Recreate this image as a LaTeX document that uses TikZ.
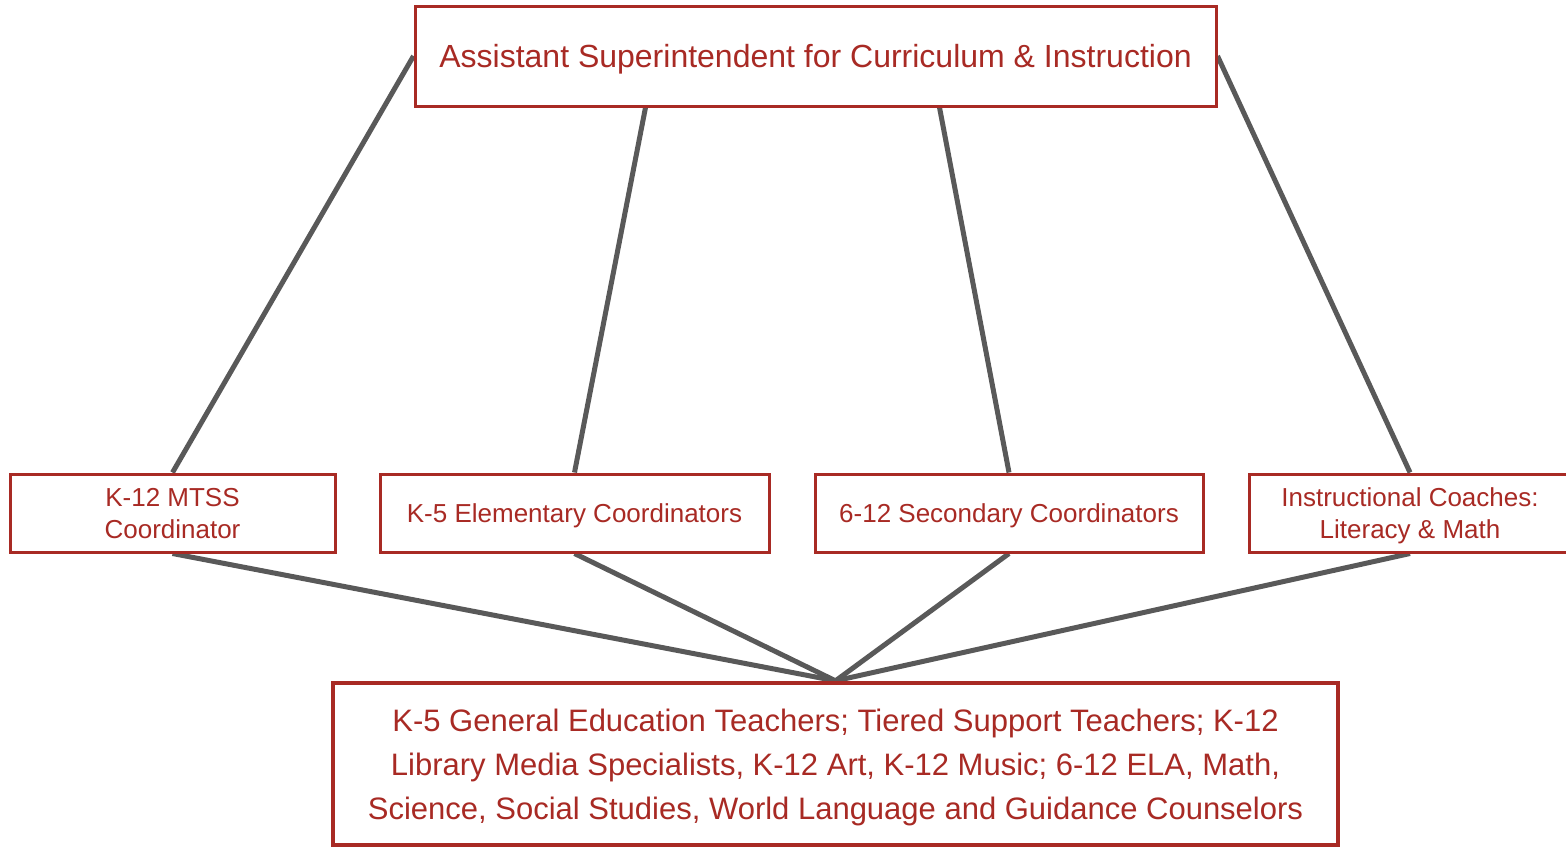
\documentclass[tikz,border=0pt]{standalone}
\usepackage{fontspec}
\setmainfont{Liberation Sans}
\usetikzlibrary{backgrounds}
\definecolor{boxred}{RGB}{168,42,36}
\definecolor{linegray}{RGB}{89,89,89}

\begin{document}
\begin{tikzpicture}[x=0.5pt,y=-0.5pt,
  box/.style={draw=boxred,line width=1.5pt,fill=white,text=boxred,align=center,inner sep=0pt,text depth=0pt},
  midbox/.style={box,minimum height=39pt,font=\fontsize{13}{16}\selectfont},
  link/.style={draw=linegray,line width=2.5pt}]
\useasboundingbox (0,0) rectangle (1566,846);

\node[box,minimum width=400.5pt,minimum height=50pt,font=\fontsize{16}{20}\selectfont] (super) at (815.5,56) {Assistant Superintendent for Curriculum \& Instruction};

\node[midbox,minimum width=162.5pt] (mtss) at (172.5,513) {K-12 MTSS\\Coordinator};
\node[midbox,minimum width=194.5pt] (elem) at (574.5,513) {K-5 Elementary Coordinators};
\node[midbox,minimum width=194pt] (sec) at (1009,513) {6-12 Secondary Coordinators};
\node[midbox,minimum width=161pt] (coach) at (1410,513) {Instructional Coaches:\\Literacy \& Math};

\node[box,line width=2.2pt,minimum width=502.5pt,minimum height=81pt,font=\fontsize{15.5}{22}\selectfont] (staff) at (835.5,764) {K-5 General Education Teachers; Tiered Support Teachers; K-12\\Library Media Specialists, K-12 Art, K-12 Music; 6-12 ELA, Math,\\Science, Social Studies, World Language and Guidance Counselors};

\begin{scope}[on background layer]
\draw[link] (super.west) -- (mtss.north);
\draw[link] ([xshift=116pt]super.south west) -- (elem.north);
\draw[link] ([xshift=263pt]super.south west) -- (sec.north);
\draw[link] (super.east) -- (coach.north);

\draw[link] (mtss.south) -- (staff.north);
\draw[link] (elem.south) -- (staff.north);
\draw[link] (sec.south) -- (staff.north);
\draw[link] (coach.south) -- (staff.north);
\end{scope}
\end{tikzpicture}
\end{document}
